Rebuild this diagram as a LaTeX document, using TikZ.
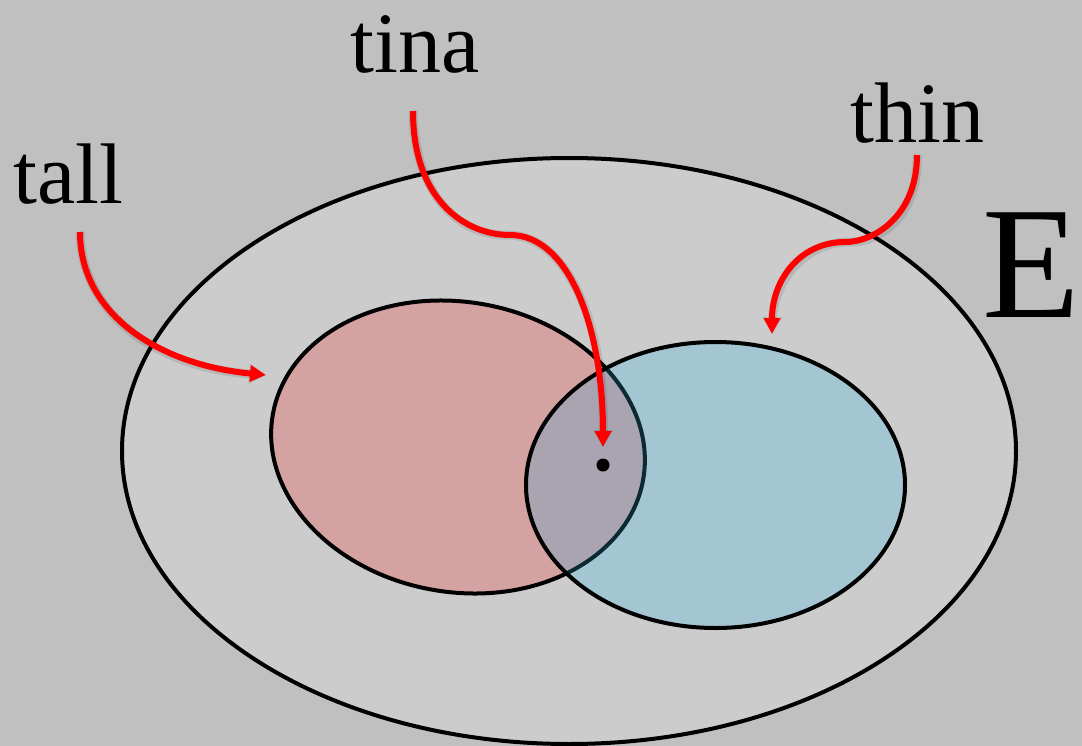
\documentclass[tikz,border=0pt]{standalone}
\usepackage{fontspec}
\setmainfont{Liberation Serif}
\usetikzlibrary{arrows.meta}
\definecolor{bggray}{HTML}{C0C0C0}
\definecolor{setgray}{HTML}{CCCCCC}
\definecolor{tallfill}{HTML}{D5A2A2}
\definecolor{thinfill}{HTML}{A3C6D2}
\definecolor{bothfill}{HTML}{AAA3B0}
\definecolor{hiddenedge}{HTML}{0B2A33}
\definecolor{pointer}{HTML}{FF0000}
\tikzset{
  setedge/.style={line width=4bp, draw=black},
  pointerarrow/.style={draw=pointer, line width=6bp,
    -{Triangle[length=16bp,width=16bp]}},
  pointershade/.style={draw=black, draw opacity=0.10, line width=9bp,
    shift={(2,3)}, -{Triangle[length=17bp,width=19bp]}},
  label/.style={inner sep=0pt, anchor=base west, font=\fontsize{86bp}{100bp}\selectfont},
}
\begin{document}
\begin{tikzpicture}[x=1bp,y=-1bp]
  % canvas
  \fill[bggray] (0,0) rectangle (1082,746);
  \useasboundingbox (0,0) rectangle (1082,746);

  % universe E
  \path[fill=setgray, setedge] (569,451) ellipse [x radius=447, y radius=293];

  % set of tall things (slightly tilted)
  \path[fill=tallfill, setedge, shift={(458,447)}, rotate=-10]
    (0,0) ellipse [x radius=188, y radius=145];

  % set of thin things
  \path[fill=thinfill] (715.5,485) ellipse [x radius=189.5, y radius=143];

  % intersection region and the tall outline seen through it
  \begin{scope}
    \clip (715.5,485) ellipse [x radius=189.5, y radius=143];
    \path[fill=bothfill, shift={(458,447)}, rotate=-10]
      (0,0) ellipse [x radius=188, y radius=145];
    \draw[line width=4bp, hiddenedge, shift={(458,447)}, rotate=-10]
      (0,0) ellipse [x radius=188, y radius=145];
  \end{scope}
  \draw[setedge] (715.5,485) ellipse [x radius=189.5, y radius=143];

  % the element tina
  \fill (603,465) circle [radius=6.5];

  % labels
  \node[label] (tall) at (13,203) {tall};
  \node[label] (tina) at (350,73) {tina};
  \node[label] (thin) at (850,142) {thin};
  \node[inner sep=0pt, anchor=base east, font=\fontsize{160bp}{180bp}\selectfont] (E) at (1080,317) {E};

  % pointer ends
  \coordinate (tallfrom) at (80,232);
  \coordinate (tallto) at (266,375);
  \coordinate (tinafrom) at (413,111);
  \coordinate (tinabend) at (510,235);
  \coordinate (tinato) at (603,447);
  \coordinate (thinfrom) at (917,155);
  \coordinate (thinbend) at (845,242);
  \coordinate (thinto) at (772,334);

  % soft shadows under the pointers
  \draw[pointershade] (tallfrom) .. controls (80,315) and (160,365) .. (tallto);
  \draw[pointershade] (tinafrom) .. controls (413,200) and (465,235) .. (tinabend)
    .. controls (570,235) and (603,330) .. (tinato);
  \draw[pointershade] (thinfrom) .. controls (917,215) and (875,242) .. (thinbend)
    .. controls (800,242) and (772,280) .. (thinto);

  % pointers
  \draw[pointerarrow] (tallfrom) .. controls (80,315) and (160,365) .. (tallto);
  \draw[pointerarrow] (tinafrom) .. controls (413,200) and (465,235) .. (tinabend)
    .. controls (570,235) and (603,330) .. (tinato);
  \draw[pointerarrow] (thinfrom) .. controls (917,215) and (875,242) .. (thinbend)
    .. controls (800,242) and (772,280) .. (thinto);
\end{tikzpicture}
\end{document}
